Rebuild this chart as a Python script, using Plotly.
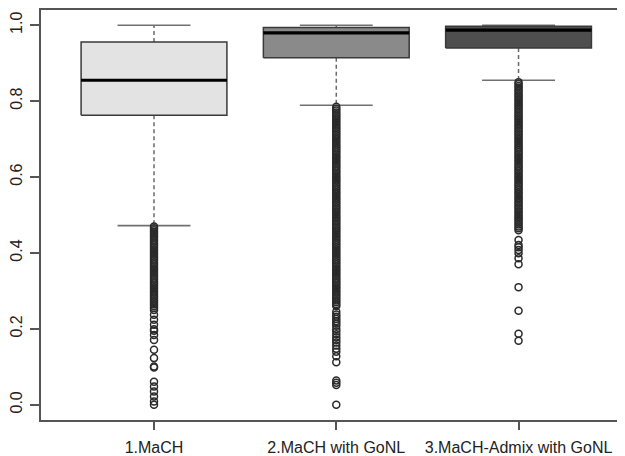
import plotly.graph_objects as go

# ---- data ----
categories = ["1.MaCH", "2.MaCH with GoNL", "3.MaCH-Admix with GoNL"]
q1 = [0.763, 0.914, 0.940]
median = [0.855, 0.980, 0.987]
q3 = [0.956, 0.994, 0.997]
whisker_low = [0.472, 0.789, 0.855]
whisker_high = [1.000, 1.000, 1.000]

outliers_1 = [
    0.470, 0.465, 0.460, 0.455, 0.450, 0.445, 0.440, 0.435, 0.430, 0.425,
    0.420, 0.415, 0.410, 0.405, 0.400, 0.395, 0.390, 0.385, 0.380, 0.375,
    0.370, 0.365, 0.360, 0.355, 0.350, 0.345, 0.340, 0.335, 0.330, 0.325,
    0.320, 0.315, 0.310, 0.305, 0.300, 0.295, 0.290, 0.285, 0.280, 0.275,
    0.270, 0.265, 0.260, 0.255, 0.250,
    0.237, 0.224, 0.211, 0.199, 0.195, 0.184, 0.171, 0.145, 0.123, 0.101,
    0.098, 0.061, 0.048, 0.035, 0.022, 0.009, 0.000,
]
outliers_2 = [
    0.785, 0.780, 0.775, 0.770, 0.765, 0.760, 0.755, 0.750, 0.745, 0.740,
    0.735, 0.730, 0.725, 0.720, 0.715, 0.710, 0.705, 0.700, 0.695, 0.690,
    0.685, 0.680, 0.675, 0.670, 0.665, 0.660, 0.655, 0.650, 0.645, 0.640,
    0.635, 0.630, 0.625, 0.620, 0.615, 0.610, 0.605, 0.600, 0.595, 0.590,
    0.585, 0.580, 0.575, 0.570, 0.565, 0.560, 0.555, 0.550, 0.545, 0.540,
    0.535, 0.530, 0.525, 0.520, 0.515, 0.510, 0.505, 0.500, 0.495, 0.490,
    0.485, 0.480, 0.475, 0.470, 0.465, 0.460, 0.455, 0.450, 0.445, 0.440,
    0.435, 0.430, 0.425, 0.420, 0.415, 0.410, 0.405, 0.400, 0.395, 0.390,
    0.385, 0.380, 0.375, 0.370, 0.365, 0.360, 0.355, 0.350, 0.345, 0.340,
    0.335, 0.330, 0.325, 0.320, 0.315, 0.310, 0.305, 0.300, 0.295, 0.290,
    0.285, 0.280, 0.275, 0.270, 0.265, 0.260,
    0.245, 0.238, 0.232, 0.226, 0.220, 0.214, 0.208, 0.200, 0.193, 0.186,
    0.178, 0.171, 0.164, 0.156, 0.148, 0.140, 0.128, 0.112,
    0.064, 0.058, 0.052, 0.000,
]
outliers_3 = [
    0.850, 0.845, 0.840, 0.835, 0.830, 0.825, 0.820, 0.815, 0.810, 0.805,
    0.800, 0.795, 0.790, 0.785, 0.780, 0.775, 0.770, 0.765, 0.760, 0.755,
    0.750, 0.745, 0.740, 0.735, 0.730, 0.725, 0.720, 0.715, 0.710, 0.705,
    0.700, 0.695, 0.690, 0.685, 0.680, 0.675, 0.670, 0.665, 0.660, 0.655,
    0.650, 0.645, 0.640, 0.635, 0.630, 0.625, 0.620, 0.615, 0.610, 0.605,
    0.600, 0.595, 0.590, 0.585, 0.580, 0.575, 0.570, 0.565, 0.560, 0.555,
    0.550, 0.545, 0.540, 0.535, 0.530, 0.525, 0.520, 0.515, 0.510, 0.505,
    0.500, 0.495, 0.490, 0.485, 0.480, 0.475, 0.470, 0.465, 0.460,
    0.434, 0.421, 0.415, 0.408, 0.399, 0.386, 0.370, 0.310, 0.248,
    0.187, 0.169,
]
outliers = [outliers_1, outliers_2, outliers_3]

y_ticks = [0.0, 0.2, 0.4, 0.6, 0.8, 1.0]

# ---- styles ----
fills = ["#e3e3e3", "#8a8a8a", "#4e4e4e"]
border = "#3a3a3a"
axis_col = "#555555"
BOX_HALF = 0.4
STAPLE_HALF = 0.2

fig = go.Figure()

for i, cat in enumerate(categories):
    p = i + 1
    # whiskers (dashed)
    fig.add_trace(go.Scatter(
        x=[p, p, None, p, p],
        y=[q3[i], whisker_high[i], None, q1[i], whisker_low[i]],
        mode="lines", line=dict(color="#6a6a6a", width=1.5, dash="4px,3px"),
        hoverinfo="skip", showlegend=False))
    # staples
    fig.add_trace(go.Scatter(
        x=[p - STAPLE_HALF, p + STAPLE_HALF, None, p - STAPLE_HALF, p + STAPLE_HALF],
        y=[whisker_high[i], whisker_high[i], None, whisker_low[i], whisker_low[i]],
        mode="lines", line=dict(color="#707070", width=1.6),
        hoverinfo="skip", showlegend=False))
    # box
    fig.add_trace(go.Scatter(
        x=[p - BOX_HALF, p + BOX_HALF, p + BOX_HALF, p - BOX_HALF, p - BOX_HALF],
        y=[q1[i], q1[i], q3[i], q3[i], q1[i]],
        mode="lines", fill="toself", fillcolor=fills[i],
        line=dict(color=border, width=1.5),
        name=cat, showlegend=False))
    # median
    fig.add_trace(go.Scatter(
        x=[p - BOX_HALF, p + BOX_HALF], y=[median[i], median[i]],
        mode="lines", line=dict(color="#000000", width=3.2),
        hoverinfo="skip", showlegend=False))
    # outliers
    fig.add_trace(go.Scatter(
        x=[p] * len(outliers[i]), y=outliers[i], mode="markers",
        marker=dict(symbol="circle-open", size=7,
                    line=dict(color="#2a2a2a", width=1.5), color="#2a2a2a"),
        showlegend=False))

font_family = "Liberation Sans, Arial, Helvetica, sans-serif"

# the page body adds an 8px margin, so the figure is 8px smaller each way
fig.update_layout(
    width=617, height=448,
    margin=dict(l=33, r=0, t=2, b=36, autoexpand=False),
    paper_bgcolor="white", plot_bgcolor="white",
    font=dict(family=font_family, size=16, color="#222222"),
    xaxis=dict(
        range=[0.38, 3.584], tickvals=[1, 2, 3], ticktext=categories,
        automargin=False,
        showgrid=False, zeroline=False, showline=True, mirror=True,
        linecolor=axis_col, linewidth=1.6,
        ticks="outside", ticklen=8, tickwidth=1.5, tickcolor=axis_col,
        ticklabelstandoff=4,
        tickfont=dict(size=16, color="#222222"),
    ),
    yaxis=dict(
        range=[-0.04, 1.04], tickvals=y_ticks, tickformat=".1f",
        tickangle=-90, automargin=False,
        showgrid=False, zeroline=False, showline=True,
        linecolor=axis_col, linewidth=1.6,
        ticks="outside", ticklen=9, tickwidth=1.5, tickcolor=axis_col,
        ticklabelstandoff=2,
        tickfont=dict(size=16, color="#222222"),
    ),
)

fig.write_html("out.html")
